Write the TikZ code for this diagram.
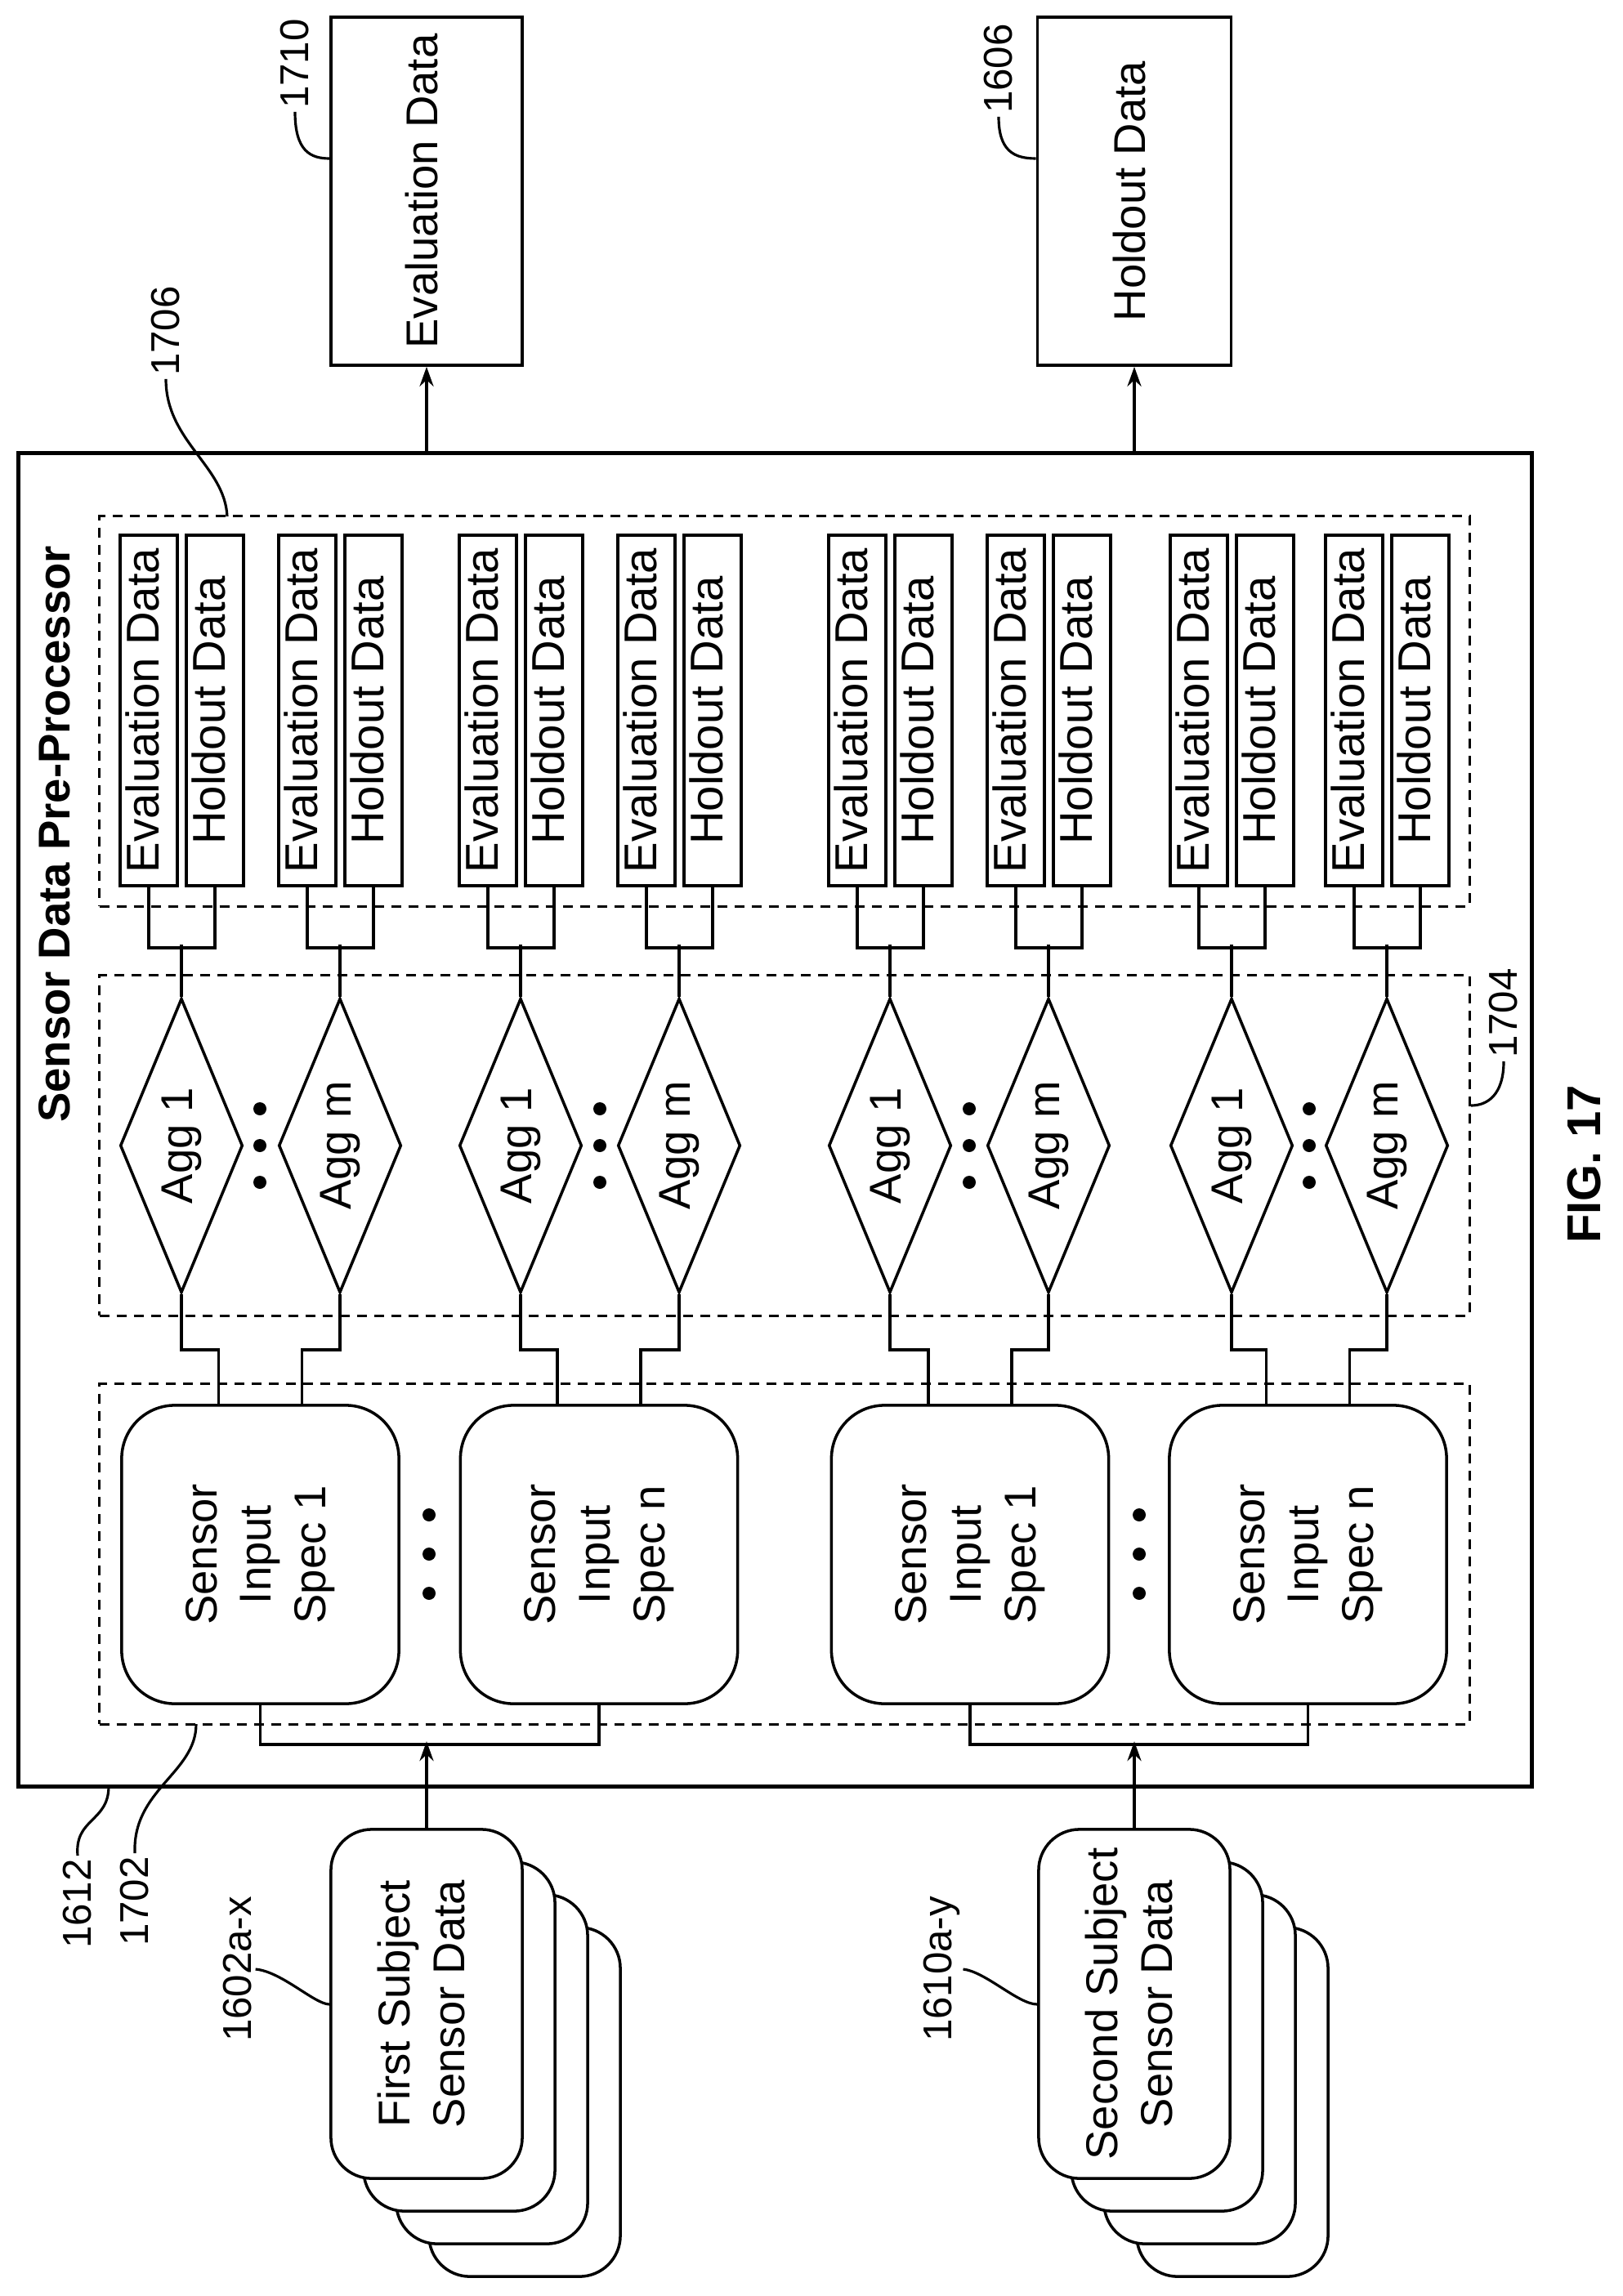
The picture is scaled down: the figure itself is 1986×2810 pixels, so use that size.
\documentclass[tikz,border=0pt]{standalone}
\usepackage{fontspec}
\setmainfont{Liberation Sans}
\usetikzlibrary{shapes.geometric,arrows.meta}
\newcommand{\vtext}[1]{\rotatebox{90}{\begin{tabular}{@{}c@{}}#1\end{tabular}}}
\tikzset{
  box/.style={draw, line width=1pt, inner sep=0pt},
  spec/.style={box, rounded corners=0.65cm, minimum width=3.39cm, minimum height=3.65cm, fill=white},
  slim/.style={box, minimum width=0.7cm, minimum height=4.29cm, font=\fontsize{16}{18}\selectfont},
  agg/.style={box, diamond, aspect=0.42, minimum width=1.5cm, minimum height=3.6cm},
  group/.style={draw, line width=0.9pt, dash pattern=on 0.12cm off 0.09cm, minimum width=16.76cm, inner sep=0pt},
  ref/.style={font=\fontsize{14}{16}\selectfont, inner sep=1pt},
  lead/.style={line width=0.9pt},
  arr/.style={line width=1pt, -{Stealth[length=0.24cm, width=0.17cm]}},
  link/.style={line width=1pt},
  dot/.style={circle, fill, inner sep=0pt, minimum size=0.16cm}
}
\begin{document}
\begin{tikzpicture}[x=0.01cm, y=-0.01cm, font=\fontsize{15.5}{19}\selectfont]
    \useasboundingbox (0,0) rectangle (1986,2810);

    % Pre-processor and its three groups
    \node[draw, line width=1.6pt, minimum width=18.51cm, minimum height=16.31cm] (pre) at (948.5,1370.5) {};
    \node[font=\fontsize{15.5}{18}\bfseries] (title) at (67,1021) {\rotatebox{90}{Sensor Data Pre-Processor}};
    \node[group, minimum height=4.77cm] (g1706) at (960,870.5) {};
    \node[group, minimum height=4.16cm] (g1704) at (960,1402) {};
    \node[group, minimum height=4.16cm] (g1702) at (960,1902) {};

    % Sensor input specs
    \node[spec] (sens1) at (318.5,1902.5) {\vtext{Sensor\\Input\\Spec 1}};
    \node[spec] (sens2) at (733,1902.5) {\vtext{Sensor\\Input\\Spec n}};
    \node[spec] (sens3) at (1187,1902.5) {\vtext{Sensor\\Input\\Spec 1}};
    \node[spec] (sens4) at (1600.5,1902.5) {\vtext{Sensor\\Input\\Spec n}};
    \foreach \x in {525,1394} \foreach \y in {1854,1902,1950} \node[dot] at (\x,\y) {};

    % Aggregators with evaluation / holdout splits
    \foreach \c/\k [count=\i] in {222/1,416/m,637/1,831/m,1089/1,1283/m,1507/1,1697/m} {
      \node[agg] (agg\i) at (\c,1402) {\vtext{Agg \k}};
      \node[slim] (ev\i) at (\c-40,869.5) {\vtext{Evaluation Data}};
      \node[slim] (ho\i) at (\c+41,869.5) {\vtext{Holdout Data}};
      \draw[link] (ev\i.south) -- ++(0,74) -| (ho\i.south);
      \draw[link] (agg\i.north) -- ++(0,-64);
    }
    \foreach \x in {318,734,1186,1602} \foreach \y in {1357,1402,1447} \node[dot] at (\x,\y) {};

    % Aggregators to sensor specs
    \foreach \s [evaluate=\s as \a using int(2*\s-1), evaluate=\s as \b using int(2*\s)] in {1,2,3,4} {
      \draw[link] (agg\a.south) -- ++(0,68) -| ([xshift=-0.51cm]sens\s.north);
      \draw[link] (agg\b.south) -- ++(0,68) -| ([xshift=0.51cm]sens\s.north);
    }
    \draw[link] (sens1.south) -- ++(0,48) -| (sens2.south);
    \draw[link] (sens3.south) -- ++(0,48) -| (sens4.south);

    % Subject sensor data stacks
    \foreach \k in {3,2,1} {
      \node[box, rounded corners=0.5cm, minimum width=2.34cm, minimum height=4.27cm, fill=white] at (522+40*\k,2452.5+40*\k) {};
      \node[box, rounded corners=0.5cm, minimum width=2.34cm, minimum height=4.27cm, fill=white] at (1388+40*\k,2452.5+40*\k) {};
    }
    \node[box, rounded corners=0.5cm, minimum width=2.34cm, minimum height=4.27cm, fill=white] (first) at (522,2452.5) {\vtext{First Subject\\Sensor Data}};
    \node[box, rounded corners=0.5cm, minimum width=2.34cm, minimum height=4.27cm, fill=white] (second) at (1388,2452.5) {\vtext{Second Subject\\Sensor Data}};
    \draw[arr] (first.north) -- ++(0,-106);
    \draw[arr] (second.north) -- ++(0,-106);

    % Outputs
    \node[box, minimum width=2.34cm, minimum height=4.26cm] (evout) at (522,234) {\vtext{Evaluation Data}};
    \node[box, minimum width=2.37cm, minimum height=4.26cm] (hoout) at (1388,234) {\vtext{Holdout Data}};
    \draw[arr] (evout.south |- pre.north) -- (evout.south);
    \draw[arr] (hoout.south |- pre.north) -- (hoout.south);

    % Reference numerals
    \node[ref] (r1710) at (361,78) {\rotatebox{90}{1710}};
    \node[ref] (r1606) at (1222,84) {\rotatebox{90}{1606}};
    \node[ref] (r1706) at (203,405) {\rotatebox{90}{1706}};
    \node[ref] (r1704) at (1840,1240) {\rotatebox{90}{1704}};
    \node[ref] (r1612) at (95,2330) {\rotatebox{90}{1612}};
    \node[ref] (r1702) at (165,2327) {\rotatebox{90}{1702}};
    \node[ref] (r1602) at (291,2410) {\rotatebox{90}{1602a-x}};
    \node[ref] (r1610) at (1152,2410) {\rotatebox{90}{1610a-y}};
    \draw[lead] (r1710.south) .. controls (361,185) and (380,194) .. (evout.west |- 0,194);
    \draw[lead] (r1606.south) .. controls (1222,185) and (1241,194) .. (hoout.west |- 0,194);
    \draw[lead] (r1706.south) .. controls (203,540) and (275,570) .. (278,632);
    \draw[lead] (r1704.south) .. controls (1840,1340) and (1820,1353) .. (g1704.east |- 0,1353);
    \draw[lead] (r1612.north) .. controls (91,2225) and (133,2230) .. (133,2186);
    \draw[lead] (r1702.north) .. controls (162,2190) and (240,2170) .. (240,2110);
    \draw[lead] (r1602.east) .. controls (345,2413) and (385,2453) .. (first.west |- 0,2453);
    \draw[lead] (r1610.east) .. controls (1206,2413) and (1246,2453) .. (second.west |- 0,2453);

    \node[font=\fontsize{16.5}{18}\bfseries] (fig) at (1938,1425) {\rotatebox{90}{FIG. 17}};
\end{tikzpicture}
\end{document}
